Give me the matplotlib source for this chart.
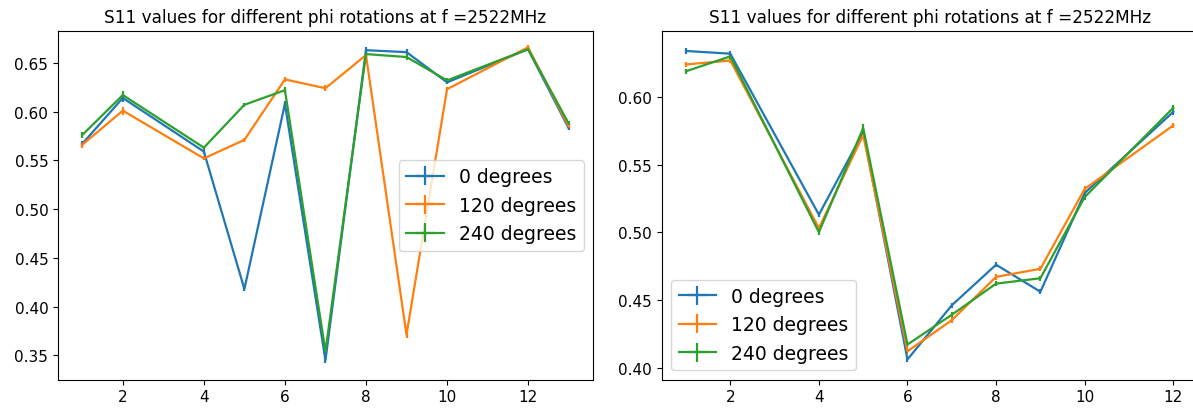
import matplotlib
matplotlib.use("Agg")
import matplotlib.pyplot as plt
import numpy as np

TITLE = "S11 values for different phi rotations at f =2522MHz"
LABELS = ["0 degrees", "120 degrees", "240 degrees"]

# left panel
x_left = [1, 2, 4, 5, 6, 7, 8, 9, 10, 12, 13]
left_0 = [0.567, 0.614, 0.559, 0.418, 0.608, 0.345, 0.663, 0.661, 0.630, 0.664, 0.583]
left_120 = [0.566, 0.601, 0.552, 0.571, 0.633, 0.624, 0.658, 0.371, 0.623, 0.666, 0.585]
left_240 = [0.576, 0.617, 0.563, 0.607, 0.622, 0.354, 0.659, 0.656, 0.632, 0.664, 0.588]
left_err = [0.003, 0.004, 0.002, 0.002, 0.003, 0.003, 0.003, 0.003, 0.002, 0.002, 0.002]

# right panel
x_right = [1, 2, 4, 5, 6, 7, 8, 9, 10, 12]
right_0 = [0.634, 0.632, 0.513, 0.574, 0.406, 0.446, 0.476, 0.456, 0.529, 0.589]
right_120 = [0.624, 0.627, 0.503, 0.572, 0.412, 0.435, 0.467, 0.473, 0.532, 0.579]
right_240 = [0.619, 0.630, 0.500, 0.577, 0.417, 0.439, 0.462, 0.466, 0.526, 0.592]
right_err = [0.002, 0.002, 0.002, 0.003, 0.002, 0.002, 0.002, 0.002, 0.002, 0.002]

fig = plt.figure(figsize=(11.93, 4.10), dpi=100)
ax1 = fig.add_axes([0.0486, 0.0715, 0.4484, 0.8512])
ax2 = fig.add_axes([0.5546, 0.0715, 0.4493, 0.8512])

for ax, x, series, err in [
    (ax1, x_left, [left_0, left_120, left_240], left_err),
    (ax2, x_right, [right_0, right_120, right_240], right_err),
]:
    for y, lab in zip(series, LABELS):
        ax.errorbar(x, y, yerr=err, xerr=0.0, label=lab, lw=1.6)
    ax.set_title(TITLE, fontsize=12.2)
    ax.tick_params(labelsize=11)
    ax.set_xticks([2, 4, 6, 8, 10, 12])

ax1.set_ylim(0.325, 0.683)
ax2.set_ylim(0.391, 0.649)
ax1.legend(loc="center right", fontsize=13.5)
ax2.legend(loc="lower left", fontsize=13.5)

fig.savefig("out.png", dpi=100)
